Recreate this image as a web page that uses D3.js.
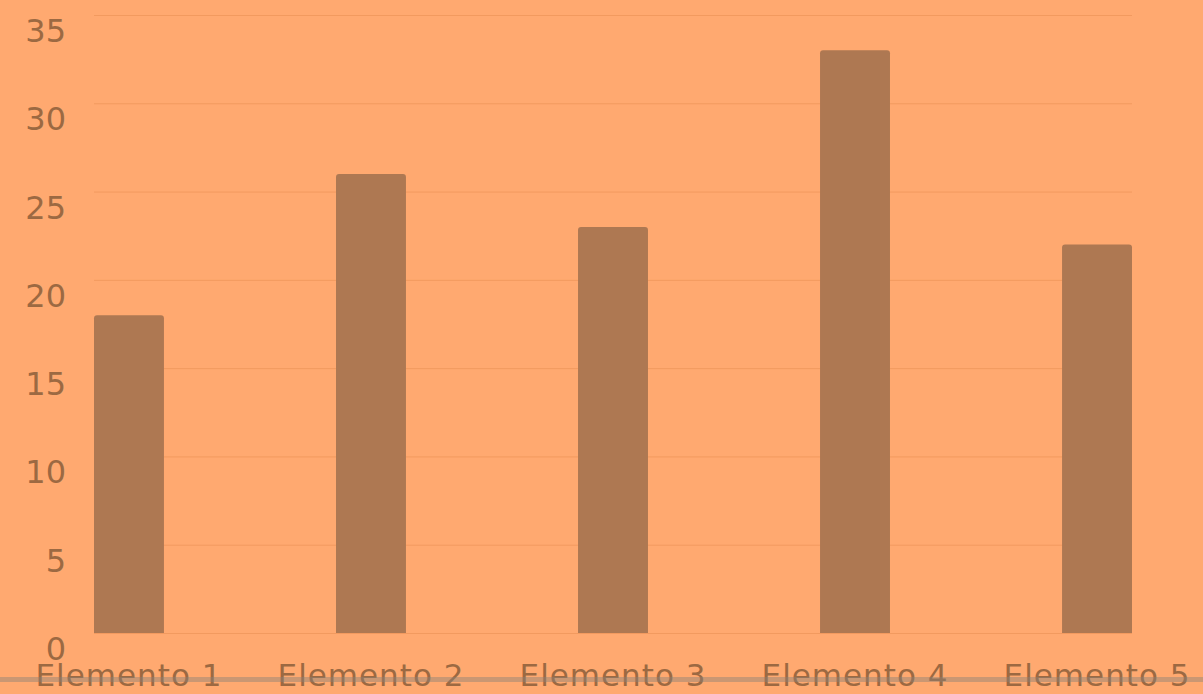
<!DOCTYPE html>
<html>
<head>
<meta charset="utf-8">
<script src="https://cdn.jsdelivr.net/npm/d3@7"></script>
<style>
  html, body { margin: 0; padding: 0; background: #ffa970; overflow: hidden; }
  svg { display: block; }
  .tick text { font-family: "DejaVu Sans", "Open Sans", sans-serif; fill: #9c6942; }
</style>
</head>
<body>
<div id="chart"></div>
<script>
var categories = ['Elemento 1', 'Elemento 2', 'Elemento 3', 'Elemento 4', 'Elemento 5'];
var values = [18, 26, 23, 33, 22];
var yTicks = [0, 5, 10, 15, 20, 25, 30, 35];

var width = 1203;
var height = 694;
var margin = { top: 15, right: 71, bottom: 61, left: 94 };

var svg = d3.select('#chart')
  .append('svg')
  .attr('width', width)
  .attr('height', height);

svg.append('rect')
  .attr('width', width)
  .attr('height', height)
  .attr('fill', '#ffa970');

var x = d3.scaleBand()
  .domain(categories)
  .range([margin.left, width - margin.right])
  .paddingInner(0.711)
  .paddingOuter(0);

var y = d3.scaleLinear()
  .domain([0, 35])
  .range([height - margin.bottom, margin.top]);

// grid lines, drawn with the y axis tick lines
var grid = svg.append('g')
  .attr('transform', 'translate(' + margin.left + ',0)')
  .call(d3.axisLeft(y).tickValues(yTicks).tickSize(-(width - margin.right - margin.left)).tickFormat(''));
grid.select('.domain').remove();
grid.selectAll('.tick line')
  .attr('stroke', '#f29a5f')
  .attr('stroke-width', 1);

// y labels sit just under their grid line
var yAxis = svg.append('g')
  .attr('transform', 'translate(66,0)')
  .call(d3.axisLeft(y).tickValues(yTicks).tickSize(0).tickPadding(0));
yAxis.select('.domain').remove();
yAxis.selectAll('.tick text')
  .attr('font-size', 32)
  .attr('dy', '0.83em');

var r = 3;
svg.append('g')
  .selectAll('path')
  .data(values)
  .join('path')
  .attr('fill', '#ae7852')
  .attr('d', function (d, i) {
    var x0 = x(categories[i]);
    var x1 = x0 + x.bandwidth();
    var y0 = y(0);
    var y1 = y(d);
    return 'M' + x0 + ',' + y0 +
      'V' + (y1 + r) +
      'Q' + x0 + ',' + y1 + ' ' + (x0 + r) + ',' + y1 +
      'H' + (x1 - r) +
      'Q' + x1 + ',' + y1 + ' ' + x1 + ',' + (y1 + r) +
      'V' + y0 + 'Z';
  });

var xAxis = svg.append('g')
  .attr('transform', 'translate(0,' + (height - margin.bottom) + ')')
  .call(d3.axisBottom(x).tickSize(0).tickPadding(0));
xAxis.select('.domain').remove();
xAxis.selectAll('.tick text')
  .attr('font-size', 31)
  .attr('letter-spacing', 1)
  .attr('dy', null)
  .attr('y', 53);

// faded rule across the bottom edge
svg.append('rect')
  .attr('x', 0)
  .attr('y', 677)
  .attr('width', width)
  .attr('height', 5)
  .attr('fill', '#8a8078')
  .attr('opacity', 0.45);
</script>
</body>
</html>
